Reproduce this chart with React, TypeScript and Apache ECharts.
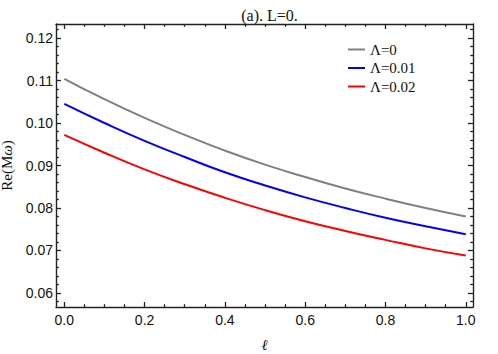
import React, { useEffect, useRef } from "react";
import * as echarts from "echarts";

const ellValues = [0, 0.1, 0.2, 0.3, 0.4, 0.5, 0.6, 0.7, 0.8, 0.9, 1.0];
const lambda0 = [0.1104, 0.1056, 0.1012, 0.0972, 0.0935, 0.0902, 0.0873, 0.0846, 0.0822, 0.08, 0.078];
const lambda001 = [0.1045, 0.1, 0.0958, 0.092, 0.0884, 0.0853, 0.0825, 0.08, 0.0777, 0.0757, 0.0738];
const lambda002 = [0.0972, 0.093, 0.0891, 0.0856, 0.0824, 0.0795, 0.0769, 0.0746, 0.0725, 0.0705, 0.0688];
const seriesNames = ["Λ=0", "Λ=0.01", "Λ=0.02"];
const xMajorTicks = [0, 0.2, 0.4, 0.6, 0.8, 1.0];
const xMinorTicks = [0.05, 0.1, 0.15, 0.25, 0.3, 0.35, 0.45, 0.5, 0.55, 0.65, 0.7, 0.75, 0.85, 0.9, 0.95];
const yMajorTicks = [0.06, 0.07, 0.08, 0.09, 0.1, 0.11, 0.12];
const yMinorTicks = [
  0.058, 0.062, 0.064, 0.066, 0.068, 0.072, 0.074, 0.076, 0.078, 0.082, 0.084, 0.086, 0.088,
  0.092, 0.094, 0.096, 0.098, 0.102, 0.104, 0.106, 0.108, 0.112, 0.114, 0.116, 0.118, 0.122,
];

const X_MIN = -0.0207;
const X_MAX = 1.018;
const Y_MIN = 0.0567;
const Y_MAX = 0.1233;

const GRID = { left: 56, right: 25, top: 24, bottom: 47, outerBoundsMode: "none", containLabel: false };
const FRAME = "#222";
const SANS = "'Liberation Sans', Arial, sans-serif";
const SERIF = "'Liberation Serif', 'Times New Roman', serif";

function xAxisDef(gridIndex: number, position: "top" | "bottom", ticks: number[], len: number, labels: boolean, line: boolean, extra: any = {}) {
  return {
    type: "value",
    gridIndex,
    position,
    min: X_MIN,
    max: X_MAX,
    axisLine: { show: line, onZero: false, lineStyle: { color: FRAME, width: 1.4 } },
    axisTick: { show: true, inside: true, length: len, customValues: ticks, lineStyle: { color: FRAME, width: 1.3 } },
    axisLabel: {
      show: labels,
      customValues: ticks,
      formatter: (v: number) => v.toFixed(1),
      fontFamily: SANS,
      fontSize: 14,
      color: "#111",
      margin: 6,
    },
    splitLine: { show: false },
    ...extra,
  };
}

function yAxisDef(gridIndex: number, position: "left" | "right", ticks: number[], len: number, labels: boolean, line: boolean, extra: any = {}) {
  return {
    type: "value",
    gridIndex,
    position,
    min: Y_MIN,
    max: Y_MAX,
    axisLine: { show: line, onZero: false, lineStyle: { color: FRAME, width: 1.4 } },
    axisTick: { show: true, inside: true, length: len, customValues: ticks, lineStyle: { color: FRAME, width: 1.3 } },
    axisLabel: {
      show: labels,
      customValues: ticks,
      formatter: (v: number) => v.toFixed(2),
      fontFamily: SANS,
      fontSize: 14,
      color: "#111",
      margin: 3,
    },
    splitLine: { show: false },
    ...extra,
  };
}

export default function App() {
  const ref = useRef<HTMLDivElement>(null);
  useEffect(() => {
    if (!ref.current) return;
    const chart = echarts.init(ref.current, undefined, { renderer: "svg" });
    const colors = ["#808080", "#0000ff", "#ff0000"];
    const datasets = [lambda0, lambda001, lambda002];
    chart.setOption({
      animation: false,
      backgroundColor: "#fff",
      title: {
        text: "(a). L=0.",
        left: 264.5,
        textAlign: "center",
        top: 2,
        textStyle: { fontFamily: SERIF, fontSize: 16, fontWeight: "normal", color: "#111" },
      },
      legend: {
        orient: "vertical",
        left: 348,
        top: 42,
        padding: 0,
        icon: "rect",
        itemWidth: 17,
        itemHeight: 2,
        itemGap: 3.5,
        data: seriesNames,
        textStyle: { fontFamily: SERIF, fontSize: 15, lineHeight: 15, color: "#111" },
      },
      grid: [{ ...GRID }, { ...GRID }],
      xAxis: [
        xAxisDef(0, "bottom", xMajorTicks, 5, true, true, {
          name: "ℓ",
          nameLocation: "middle",
          nameGap: 30,
          nameTextStyle: { fontFamily: SERIF, fontSize: 15, fontStyle: "italic", color: "#111" },
        }),
        xAxisDef(0, "top", xMajorTicks, 5, false, true),
        xAxisDef(1, "bottom", xMinorTicks, 2.8, false, false),
        xAxisDef(1, "top", xMinorTicks, 2.8, false, false),
      ],
      yAxis: [
        yAxisDef(0, "left", yMajorTicks, 5, true, true, {
          name: "Re(M{i|ω})",
          nameLocation: "middle",
          nameGap: 38,
          nameRotate: 90,
          nameTextStyle: {
            fontFamily: SERIF,
            fontSize: 15,
            color: "#111",
            rich: { i: { fontFamily: SERIF, fontSize: 15, fontStyle: "italic", color: "#111" } },
          },
        }),
        yAxisDef(0, "right", yMajorTicks, 5, false, true),
        yAxisDef(1, "left", yMinorTicks, 2.8, false, false),
        yAxisDef(1, "right", yMinorTicks, 2.8, false, false),
      ],
      series: datasets.map((d, i) => ({
        name: seriesNames[i],
        type: "line",
        xAxisIndex: 0,
        yAxisIndex: 0,
        smooth: true,
        symbol: "none",
        showSymbol: false,
        color: colors[i],
        lineStyle: { color: colors[i], width: 2 },
        data: ellValues.map((x, j) => [x, d[j]]),
      })),
    });
    return () => chart.dispose();
  }, []);
  return <div ref={ref} style={{ width: 498, height: 354, position: "absolute", left: 0, top: 0 }} />;
}
